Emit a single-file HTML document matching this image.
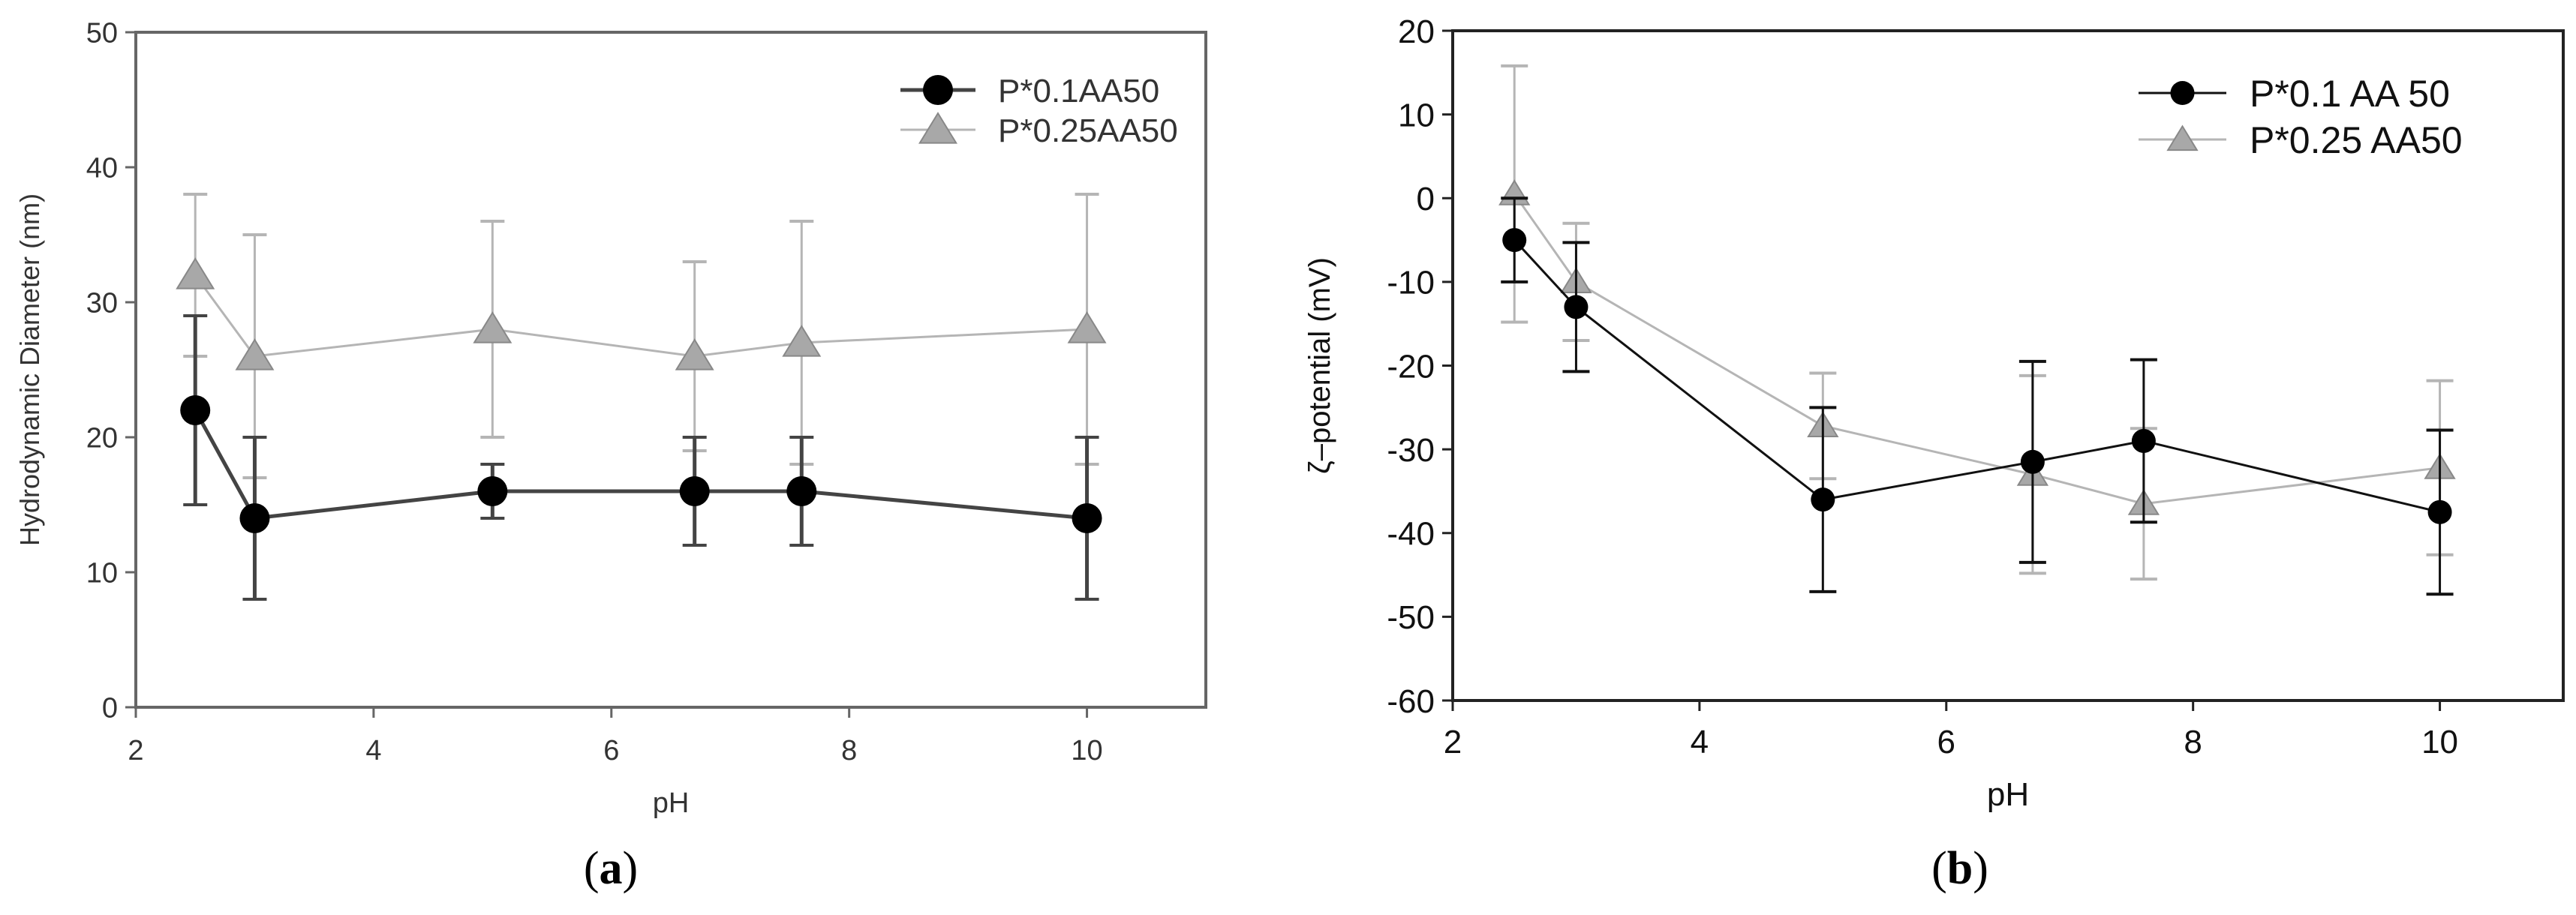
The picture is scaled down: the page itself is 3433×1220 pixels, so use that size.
<!DOCTYPE html>
<html><head><meta charset="utf-8"><style>
body{margin:0;background:#fff;}
svg{display:block;font-family:"Liberation Sans",sans-serif;}
</style></head><body>
<svg id="fig" width="3433" height="1220" viewBox="0 0 3433 1220">
<g id="pa"></g>
<g id="pb"></g>
<text x="814" y="1178" font-family="Liberation Serif,serif" font-size="62" text-anchor="middle" fill="#000">(<tspan font-weight="bold">a</tspan>)</text>
<text x="2612" y="1178" font-family="Liberation Serif,serif" font-size="62" text-anchor="middle" fill="#000">(<tspan font-weight="bold">b</tspan>)</text>
</svg>
<script>
const phA = [2.5, 3, 5, 6.7, 7.6, 10];
const dA1 = [22, 14, 16, 16, 16, 14];
const eA1 = [7, 6, 2, 4, 4, 6];
const dA2 = [32, 26, 28, 26, 27, 28];
const eA2 = [6, 9, 8, 7, 9, 10];
const yTicksA = [0, 10, 20, 30, 40, 50];
const xTicks = [2, 4, 6, 8, 10];
const phB = [2.5, 3, 5, 6.7, 7.6, 10];
const dB1 = [-5, -13, -36, -31.5, -29, -37.5];
const eB1 = [5, 7.7, 11, 12, 9.7, 9.8];
const dB2 = [0.5, -10, -27.2, -33, -36.5, -32.2];
const eB2 = [15.3, 7, 6.3, 11.8, 9, 10.4];
const yTicksB = [-60, -50, -40, -30, -20, -10, 0, 10, 20];
const NS = "http://www.w3.org/2000/svg";
function mk(parent, tag, attrs, name) {
  const el = document.createElementNS(NS, tag);
  for (const k in attrs) el.setAttribute(k, attrs[k]);
  
  
  parent.appendChild(el);
  return el;
}
function panel(g, cfg) {
  const sx = v => cfg.x0 + (v - 2) / 9 * (cfg.x1 - cfg.x0);
  const sy = v => cfg.y1 - (v - cfg.ymin) / (cfg.ymax - cfg.ymin) * (cfg.y1 - cfg.y0);
  mk(g, 'rect', {x: cfg.x0, y: cfg.y0, width: cfg.x1 - cfg.x0, height: cfg.y1 - cfg.y0, fill: 'none', stroke: cfg.axc, 'stroke-width': 4}, 'plot-frame');
  cfg.yt.forEach(t => {
    mk(g, 'line', {x1: cfg.x0 - 14, x2: cfg.x0, y1: sy(t), y2: sy(t), stroke: cfg.axc, 'stroke-width': 3}, 'y-tick');
    const tx = mk(g, 'text', {x: cfg.x0 - 24, y: sy(t) + cfg.tfs * 0.36, 'font-size': cfg.tfs, 'text-anchor': 'end', fill: cfg.tc}, 'y-tick-label');
    tx.textContent = t;
  });
  xTicks.forEach(t => {
    mk(g, 'line', {x1: sx(t), x2: sx(t), y1: cfg.y1, y2: cfg.y1 + 14, stroke: cfg.axc, 'stroke-width': 3}, 'x-tick');
    const tx = mk(g, 'text', {x: sx(t), y: cfg.y1 + 70, 'font-size': cfg.tfs, 'text-anchor': 'middle', fill: cfg.tc}, 'x-tick-label');
    tx.textContent = t;
  });
  const xl = mk(g, 'text', {x: (cfg.x0 + cfg.x1) / 2, y: cfg.y1 + 140, 'font-size': cfg.tfs, 'text-anchor': 'middle', fill: cfg.tc}, 'x-axis-title');
  xl.textContent = 'pH';
  const yl = mk(g, 'text', {x: 0, y: 0, 'font-size': cfg.yfs, 'text-anchor': 'middle', fill: cfg.tc, transform: `translate(${cfg.ytx},${(cfg.y0 + cfg.y1) / 2}) rotate(-90)`}, 'y-axis-title');
  yl.textContent = cfg.ytitle;
  // series: gray first, then black
  const series = [
    {d: cfg.d2, e: cfg.e2, col: '#b5b5b5', lw: 3, marker: 'tri', name: 'series-p025'},
    {d: cfg.d1, e: cfg.e1, col: cfg.blk, lw: cfg.blw, marker: 'circ', name: 'series-p01'}
  ];
  series.forEach(s => {
    const sg = mk(g, 'g', {}, s.name);
    cfg.ph.forEach((p, i) => {
      const x = sx(p), yt = sy(s.d[i] + s.e[i]), yb = sy(s.d[i] - s.e[i]);
      mk(sg, 'line', {x1: x, x2: x, y1: yt, y2: yb, stroke: s.col, 'stroke-width': s.lw}, 'error-bar');
      mk(sg, 'line', {x1: x - cfg.cap, x2: x + cfg.cap, y1: yt, y2: yt, stroke: s.col, 'stroke-width': 4}, 'error-cap-top');
      mk(sg, 'line', {x1: x - cfg.cap, x2: x + cfg.cap, y1: yb, y2: yb, stroke: s.col, 'stroke-width': 4}, 'error-cap-bottom');
    });
    mk(sg, 'polyline', {points: cfg.ph.map((p, i) => sx(p) + ',' + sy(s.d[i])).join(' '), fill: 'none', stroke: s.col, 'stroke-width': s.lw}, 'series-line');
    cfg.ph.forEach((p, i) => {
      const x = sx(p), y = sy(s.d[i]);
      if (s.marker === 'circ') mk(sg, 'circle', {cx: x, cy: y, r: cfg.r, fill: '#000'}, 'point-circle');
      else { const r = cfg.r * 1.1; mk(sg, 'polygon', {points: `${x},${y - r} ${x - r * 1.1},${y + r * 0.8} ${x + r * 1.1},${y + r * 0.8}`, fill: '#a8a8a8', stroke: '#888', 'stroke-width': 2}, 'point-triangle'); }
    });
  });
  // legend
  const L = cfg.leg;
  const lg = mk(g, 'g', {}, 'legend');
  mk(lg, 'line', {x1: L.x0, x2: L.x1, y1: L.y1, y2: L.y1, stroke: cfg.blk, 'stroke-width': cfg.blw}, 'legend-line-p01');
  mk(lg, 'circle', {cx: (L.x0 + L.x1) / 2, cy: L.y1, r: cfg.r}, 'legend-marker-p01');
  mk(lg, 'line', {x1: L.x0, x2: L.x1, y1: L.y2, y2: L.y2, stroke: '#b5b5b5', 'stroke-width': 3}, 'legend-line-p025');
  const cx = (L.x0 + L.x1) / 2, r = cfg.r * 1.1;
  mk(lg, 'polygon', {points: `${cx},${L.y2 - r} ${cx - r * 1.1},${L.y2 + r * 0.8} ${cx + r * 1.1},${L.y2 + r * 0.8}`, fill: '#a8a8a8', stroke: '#888', 'stroke-width': 2}, 'legend-marker-p025');
  const t1 = mk(lg, 'text', {x: L.tx, y: L.y1 + L.fs * 0.36, 'font-size': L.fs, fill: cfg.tc}, 'legend-label-p01');
  t1.textContent = L.l1;
  const t2 = mk(lg, 'text', {x: L.tx, y: L.y2 + L.fs * 0.36, 'font-size': L.fs, fill: cfg.tc}, 'legend-label-p025');
  t2.textContent = L.l2;
}
panel(document.getElementById('pa'), {
  x0: 181, x1: 1607, y0: 43, y1: 943, ymin: 0, ymax: 50, yt: yTicksA, ph: phA,
  d1: dA1, e1: eA1, d2: dA2, e2: eA2, axc: '#666', tc: '#333', blk: '#444', blw: 5,
  tfs: 38, yfs: 36, ytx: 52, ytitle: 'Hydrodynamic Diameter (nm)', r: 20, cap: 16,
  leg: {x0: 1200, x1: 1300, y1: 120, y2: 173, tx: 1330, fs: 44, l1: 'P*0.1AA50', l2: 'P*0.25AA50'}
});
panel(document.getElementById('pb'), {
  x0: 1936, x1: 3416, y0: 41, y1: 934, ymin: -60, ymax: 20, yt: yTicksB, ph: phB,
  d1: dB1, e1: eB1, d2: dB2, e2: eB2, axc: '#222', tc: '#111', blk: '#111', blw: 3,
  tfs: 44, yfs: 40, ytx: 1772, ytitle: 'ζ–potential (mV)', r: 16, cap: 18,
  leg: {x0: 2850, x1: 2967, y1: 124, y2: 186, tx: 2998, fs: 50, l1: 'P*0.1 AA 50', l2: 'P*0.25 AA50'}
});
</script>
</body></html>
